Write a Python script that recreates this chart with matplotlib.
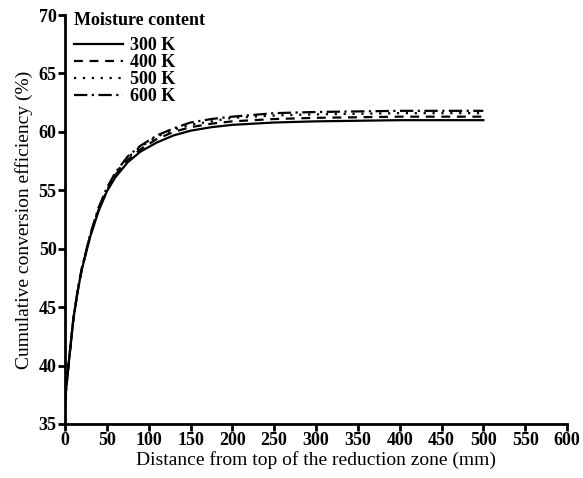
import matplotlib.pyplot as plt

plt.rcParams['font.family'] = ['Liberation Serif', 'DejaVu Serif']

# distance from top of reduction zone (mm)
dist = [0, 5, 10, 15, 20, 30, 40, 50, 60, 75, 90, 110, 130, 150, 175, 200, 250, 300, 350, 400, 450, 500]

eff_300 = [37.0, 40.6, 44.0, 46.3, 48.2, 51.0, 53.2, 54.9, 56.1, 57.4, 58.3, 59.1, 59.7, 60.1, 60.4, 60.6, 60.8, 60.9, 60.95, 61.0, 61.0, 61.0]
eff_400 = [37.0, 40.6, 44.0, 46.3, 48.2, 51.1, 53.3, 55.0, 56.3, 57.6, 58.5, 59.4, 60.0, 60.4, 60.7, 60.9, 61.1, 61.2, 61.25, 61.3, 61.3, 61.3]
eff_500 = [37.0, 40.6, 44.0, 46.3, 48.3, 51.1, 53.4, 55.1, 56.4, 57.8, 58.7, 59.6, 60.2, 60.6, 60.9, 61.2, 61.4, 61.5, 61.55, 61.6, 61.6, 61.6]
eff_600 = [37.0, 40.6, 44.0, 46.4, 48.3, 51.2, 53.5, 55.2, 56.5, 57.9, 58.8, 59.7, 60.3, 60.8, 61.1, 61.3, 61.6, 61.7, 61.75, 61.8, 61.8, 61.8]

labels = ['300 K', '400 K', '500 K', '600 K']
styles = ['-', (0, (4, 3)), (0, (1, 3)), (0, (6, 2, 1, 2))]

fig = plt.figure(figsize=(5.83, 4.78), dpi=100)
ax = fig.add_axes([0.1115, 0.113, 0.8611, 0.8556])

for y, lab, ls in zip([eff_300, eff_400, eff_500, eff_600], labels, styles):
    ax.plot(dist, y, color='black', linestyle=ls, linewidth=1.6, label=lab)

ax.set_xlim(0, 600)
ax.set_ylim(35, 70)
ax.set_xticks(range(0, 601, 50))
ax.set_yticks(range(35, 71, 5))
ax.spines['top'].set_visible(False)
ax.spines['right'].set_visible(False)
ax.spines['left'].set_linewidth(2)
ax.spines['bottom'].set_linewidth(2)
ax.tick_params(direction='out', length=5, width=2, labelsize=13, pad=1)
for t in ax.get_xticklabels() + ax.get_yticklabels():
    t.set_fontweight('bold')

ax.set_xlabel('Distance from top of the reduction zone (mm)', fontsize=14, labelpad=1)
ax.set_ylabel('Cumulative conversion efficiency (%)', fontsize=14, labelpad=4)

leg = ax.legend(title='Moisture content', loc='upper left', frameon=False,
                fontsize=13, title_fontsize=13, handlelength=2.7, handletextpad=0.4,
                labelspacing=0.0, borderaxespad=0.1, bbox_to_anchor=(0.0, 1.03))
leg._legend_box.align = 'left'
leg._legend_box.sep = 6
for t in leg.get_texts():
    t.set_fontweight('bold')
leg.get_title().set_fontweight('bold')

fig.savefig('out.png', dpi=100)
